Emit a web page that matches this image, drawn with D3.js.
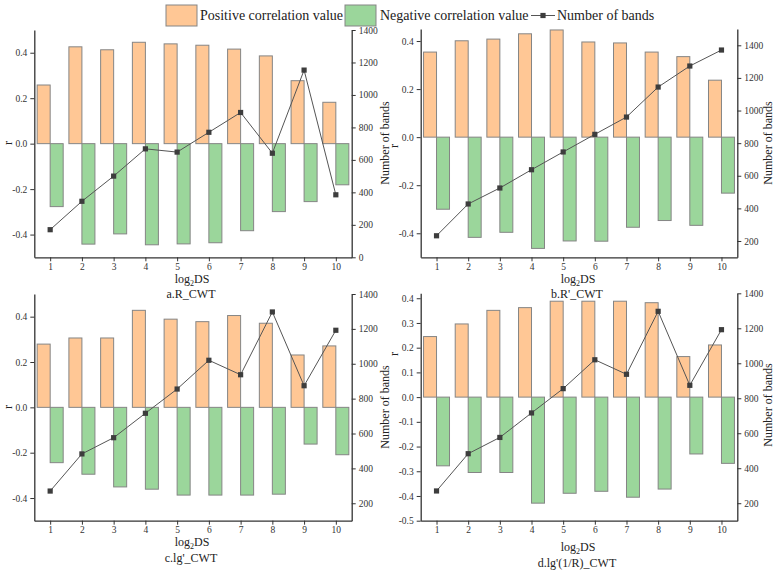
<!DOCTYPE html>
<html>
<head>
<meta charset="utf-8">
<script src="https://cdn.jsdelivr.net/npm/d3@7"></script>
<style>
  html, body { margin: 0; padding: 0; background: #fff; }
  svg { display: block; }
  text { font-family: "Liberation Serif", "DejaVu Serif", serif; fill: #222; }
</style>
</head>
<body>
<svg id="chart" width="776" height="573"></svg>
<script>
// ---------------- data ----------------
const categories = [1, 2, 3, 4, 5, 6, 7, 8, 9, 10];

const posA = [0.258, 0.426, 0.413, 0.446, 0.439, 0.433, 0.416, 0.386, 0.277, 0.182];
const negA = [-0.277, -0.442, -0.397, -0.445, -0.441, -0.436, -0.383, -0.299, -0.255, -0.181];
const bandsA = [170, 345, 500, 668, 648, 770, 892, 641, 1153, 385];

const posB = [0.354, 0.401, 0.408, 0.430, 0.446, 0.396, 0.392, 0.354, 0.335, 0.237];
const negB = [-0.300, -0.417, -0.396, -0.463, -0.432, -0.433, -0.375, -0.347, -0.367, -0.233];
const bandsB = [232, 427, 525, 637, 746, 854, 960, 1144, 1273, 1371];

const posC = [0.279, 0.306, 0.306, 0.428, 0.389, 0.378, 0.405, 0.371, 0.231, 0.271];
const negC = [-0.244, -0.295, -0.351, -0.361, -0.387, -0.387, -0.387, -0.383, -0.162, -0.209];
const bandsC = [270, 483, 576, 716, 855, 1020, 937, 1297, 874, 1192];

const posD = [0.245, 0.296, 0.351, 0.362, 0.388, 0.388, 0.388, 0.382, 0.164, 0.211];
const negD = [-0.278, -0.305, -0.305, -0.429, -0.389, -0.381, -0.405, -0.372, -0.230, -0.268];
const bandsD = [270, 483, 576, 716, 855, 1020, 937, 1297, 874, 1192];

const leftTicksA = [-0.4, -0.2, 0.0, 0.2, 0.4];
const leftTicksD = [-0.5, -0.4, -0.3, -0.2, -0.1, 0.0, 0.1, 0.2, 0.3, 0.4];
const rightTicksA = [0, 200, 400, 600, 800, 1000, 1200, 1400];
const rightTicksB = [200, 400, 600, 800, 1000, 1200, 1400];

const legendLabels = ["Positive correlation value", "Negative correlation value", "Number of bands"];
const subtitles = ["a.R_CWT", "b.R'_CWT", "c.lg'_CWT", "d.lg'(1/R)_CWT"];

// ---------------- layout ----------------
const FONT = '"Liberation Serif", "DejaVu Serif", serif';
const COL_POS = "#FFC795";
const COL_NEG = "#9BD69B";
const COL_BAR_STROKE = "#858585";
const COL_LINE = "#555";
const COL_PT = "#3d3d3d";
const COL_AXIS = "#333";

const panels = [
  { pos: posA, neg: negA, bands: bandsA, x0: 34.3, x1: 351.7, yTop: 30, yBot: 257.3,
    ldom: [-0.5, 0.5], rdom: [0, 1400], lt: leftTicksA, rt: rightTicksA,
    rLab: [8, 143], nbLab: [385, 143], xlabY: 283, subY: 298, sub: subtitles[0] },
  { pos: posB, neg: negB, bands: bandsB, x0: 420.7, x1: 737.3, yTop: 29, yBot: 257.3,
    ldom: [-0.5, 0.45], rdom: [100, 1500], lt: leftTicksA, rt: rightTicksB,
    rLab: [394, 146], nbLab: [768, 143], xlabY: 283, subY: 298, sub: subtitles[1] },
  { pos: posC, neg: negC, bands: bandsC, x0: 34.3, x1: 351.7, yTop: 294, yBot: 520.7,
    ldom: [-0.5, 0.5], rdom: [100, 1400], lt: leftTicksA, rt: rightTicksB,
    rLab: [8, 407], nbLab: [385, 407], xlabY: 546, subY: 562, sub: subtitles[2] },
  { pos: posD, neg: negD, bands: bandsD, x0: 420.7, x1: 737.3, yTop: 293.3, yBot: 520.7,
    ldom: [-0.5, 0.42], rdom: [100, 1400], lt: leftTicksD, rt: rightTicksB,
    rLab: [394, 354], nbLab: [768, 405], xlabY: 551, subY: 567, sub: subtitles[3] }
];

const svg = d3.select("#chart");
const fmtL = v => (Math.abs(v) < 1e-9 ? "0.0" : v.toFixed(1));
const BW = 0.41;

panels.forEach(p => {
  const g = svg.append("g");
  const x = d3.scaleLinear().domain([0.5, 10.5]).range([p.x0, p.x1]);
  const yl = d3.scaleLinear().domain(p.ldom).range([p.yBot, p.yTop]);
  const yr = d3.scaleLinear().domain(p.rdom).range([p.yBot, p.yTop]);

  const rows = categories.map((c, i) => ({ c, pos: p.pos[i], neg: p.neg[i], n: p.bands[i] }));

  // positive bars (left of tick)
  g.selectAll("rect.pos").data(rows).join("rect")
    .attr("class", "pos")
    .attr("x", d => x(d.c - BW))
    .attr("width", d => x(d.c) - x(d.c - BW))
    .attr("y", d => yl(d.pos))
    .attr("height", d => yl(0) - yl(d.pos))
    .attr("fill", COL_POS).attr("stroke", COL_BAR_STROKE).attr("stroke-width", 1);

  // negative bars (right of tick)
  g.selectAll("rect.neg").data(rows).join("rect")
    .attr("class", "neg")
    .attr("x", d => x(d.c))
    .attr("width", d => x(d.c + BW) - x(d.c))
    .attr("y", d => yl(0))
    .attr("height", d => yl(d.neg) - yl(0))
    .attr("fill", COL_NEG).attr("stroke", COL_BAR_STROKE).attr("stroke-width", 1);

  // line
  const line = d3.line().x(d => x(d.c)).y(d => yr(d.n));
  g.append("path").datum(rows).attr("d", line)
    .attr("fill", "none").attr("stroke", COL_LINE).attr("stroke-width", 1);
  g.selectAll("rect.pt").data(rows).join("rect")
    .attr("class", "pt")
    .attr("x", d => x(d.c) - 2.6).attr("y", d => yr(d.n) - 2.6)
    .attr("width", 5.2).attr("height", 5.2).attr("fill", COL_PT);

  // axes
  const axL = d3.axisLeft(yl).tickValues(p.lt).tickFormat(fmtL).tickSize(4).tickSizeOuter(0).tickPadding(3);
  const axR = d3.axisRight(yr).tickValues(p.rt).tickFormat(d3.format("d")).tickSize(4).tickSizeOuter(0).tickPadding(3);
  const axB = d3.axisBottom(x).tickValues(categories).tickFormat(d3.format("d")).tickSize(4).tickSizeOuter(0).tickPadding(2);

  const styleAxis = sel => {
    sel.attr("font-family", null).attr("font-size", null);
    sel.selectAll("path.domain").attr("stroke", COL_AXIS).attr("stroke-width", 1.3);
    sel.selectAll(".tick line").attr("stroke", COL_AXIS).attr("stroke-width", 1);
    sel.selectAll(".tick text").style("font-family", FONT)
      .style("font-size", "9.5px").style("fill", "#333");
  };
  g.append("g").attr("transform", `translate(${p.x0},0)`).call(axL).call(styleAxis);
  g.append("g").attr("transform", `translate(${p.x1},0)`).call(axR).call(styleAxis);
  g.append("g").attr("transform", `translate(0,${p.yBot})`).call(axB).call(styleAxis);

  // axis titles
  g.append("text").attr("transform", `translate(${p.rLab[0]},${p.rLab[1]}) rotate(-90)`)
    .attr("text-anchor", "middle").attr("dominant-baseline", "central")
    .attr("font-size", 12).text("r");
  g.append("text").attr("transform", `translate(${p.nbLab[0]},${p.nbLab[1]}) rotate(-90)`)
    .attr("text-anchor", "middle").attr("dominant-baseline", "central")
    .attr("font-size", 12).text(legendLabels[2]);

  const cx = (p.x0 + p.x1) / 2;
  const xl = g.append("text").attr("x", cx - 1).attr("y", p.xlabY)
    .attr("text-anchor", "middle").attr("font-size", 12);
  xl.append("tspan").text("log");
  xl.append("tspan").attr("font-size", 8).attr("dy", 3).text("2");
  xl.append("tspan").attr("dy", -3).text("DS");

  g.append("text").attr("x", cx - 2).attr("y", p.subY)
    .attr("text-anchor", "middle").attr("font-size", 12).text(p.sub);
});

// ---------------- legend ----------------
const lg = svg.append("g");
lg.append("rect").attr("x", 166).attr("y", 5).attr("width", 31).attr("height", 21)
  .attr("fill", COL_POS).attr("stroke", COL_BAR_STROKE).attr("stroke-width", 1);
lg.append("text").attr("x", 200).attr("y", 20).attr("font-size", 14).text(legendLabels[0]);
lg.append("rect").attr("x", 345).attr("y", 5).attr("width", 31).attr("height", 21)
  .attr("fill", COL_NEG).attr("stroke", COL_BAR_STROKE).attr("stroke-width", 1);
lg.append("text").attr("x", 380).attr("y", 20).attr("font-size", 14).text(legendLabels[1]);
lg.append("line").attr("x1", 531).attr("x2", 555).attr("y1", 15.5).attr("y2", 15.5)
  .attr("stroke", COL_LINE).attr("stroke-width", 1);
lg.append("rect").attr("x", 543 - 2.6).attr("y", 15.5 - 2.6).attr("width", 5.2).attr("height", 5.2)
  .attr("fill", COL_PT);
lg.append("text").attr("x", 557).attr("y", 20).attr("font-size", 14).text(legendLabels[2]);
</script>
</body>
</html>
